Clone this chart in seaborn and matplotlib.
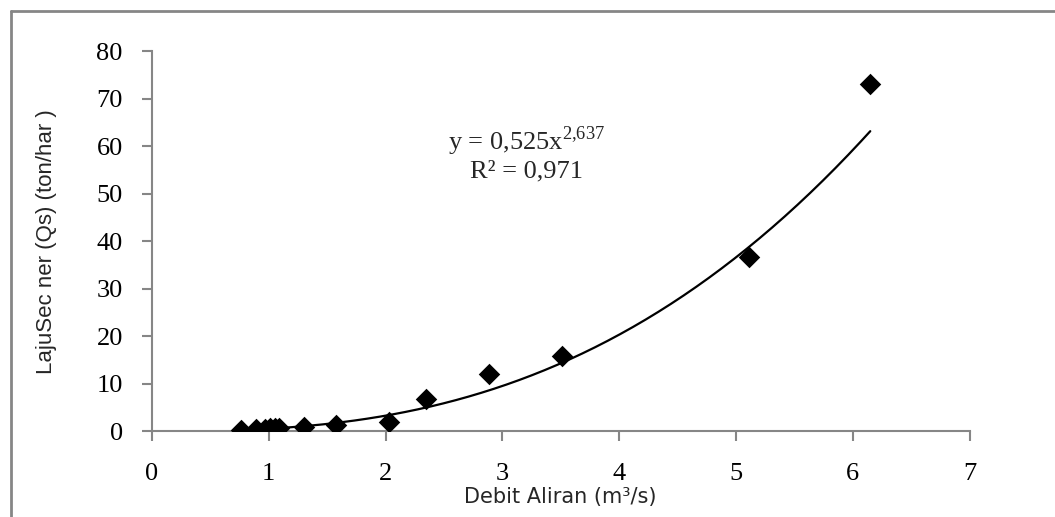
import numpy as np
import pandas as pd
import matplotlib
matplotlib.use('Agg')
import matplotlib.pyplot as plt
import seaborn as sns

# debit aliran (m3/s) and laju sedimen (ton/hari)
debit = [0.76, 0.89, 0.97, 1.01, 1.05, 1.09, 1.30, 1.58, 2.03, 2.35, 2.89, 3.51, 5.11, 6.15]
sedimen = [0.3, 0.4, 0.5, 0.6, 0.6, 0.7, 0.9, 1.2, 1.9, 6.7, 12.0, 15.9, 36.7, 73.0]

# power trendline shown on the chart
koef_a = 0.525
koef_b = 2.637
r2 = 0.971

x_ticks = [0, 1, 2, 3, 4, 5, 6, 7]
y_ticks = [0, 10, 20, 30, 40, 50, 60, 70, 80]

df = pd.DataFrame({'Q': debit, 'Qs': sedimen})
xs = np.linspace(min(debit), max(debit), 200)
trend = pd.DataFrame({'Q': xs, 'Qs': koef_a * xs ** koef_b})

sns.set_style('white')
plt.rcParams['font.family'] = ['Liberation Serif', 'DejaVu Serif']
plt.rcParams['mathtext.fontset'] = 'custom'
plt.rcParams['mathtext.rm'] = 'Liberation Serif'

fig = plt.figure(figsize=(10.55, 5.17), dpi=100)
ax = fig.add_axes([0.144, 0.166, 0.775, 0.735])

sns.lineplot(data=trend, x='Q', y='Qs', color='black', linewidth=1.6, ax=ax)
sns.scatterplot(data=df, x='Q', y='Qs', marker='D', s=120, color='black',
                edgecolor='black', linewidth=0, ax=ax, zorder=3)

ax.set_xlim(0, 7)
ax.set_ylim(0, 80)
ax.set_xticks(x_ticks)
ax.set_yticks(y_ticks)
ax.tick_params(axis='both', labelsize=19, colors='#868686', labelcolor='black',
               length=7, width=1.5, direction='out', bottom=True, left=True)
ax.tick_params(axis='x', pad=16)
ax.tick_params(axis='y', pad=14)
for side in ['top', 'right']:
    ax.spines[side].set_visible(False)
for side in ['left', 'bottom']:
    ax.spines[side].set_color('#868686')
    ax.spines[side].set_linewidth(1.5)

ax.set_xlabel('Debit Aliran (m³/s)', family=['DejaVu Sans'], fontsize=15, labelpad=1)
ax.set_ylabel('LajuSec ner (Qs) (ton/har )', family=['Liberation Sans', 'DejaVu Sans'],
              fontsize=16, labelpad=28)

ax.text(3.21, 61.0, r'y = 0,525x$^{\mathregular{2{,}637}}$', ha='center', va='center', fontsize=19)
ax.text(3.21, 54.7, 'R² = 0,971', ha='center', va='center', fontsize=19)

# outer chart frame (only top and left edges visible)
fig.add_artist(plt.Line2D([0.0105, 1], [0.979, 0.979], color='#868686', linewidth=2,
                          transform=fig.transFigure))
fig.add_artist(plt.Line2D([0.0105, 0.0105], [0, 0.979], color='#868686', linewidth=2,
                          transform=fig.transFigure))

fig.savefig('out.png', dpi=100)
